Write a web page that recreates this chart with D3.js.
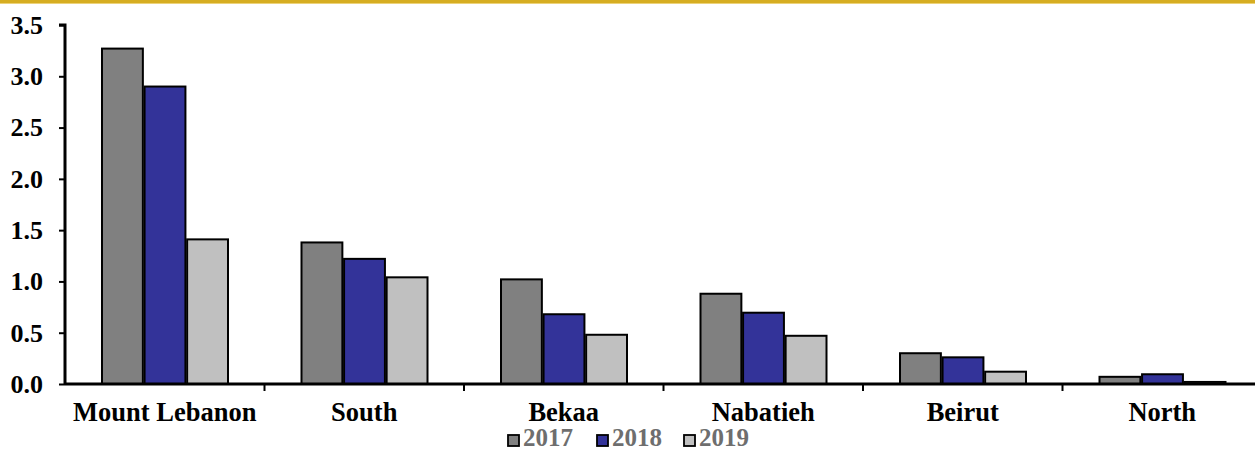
<!DOCTYPE html>
<html>
<head>
<meta charset="utf-8">
<script src="https://cdn.jsdelivr.net/npm/d3@7"></script>
<style>
  html, body { margin: 0; padding: 0; background: #fff; }
  svg { display: block; }
  text { font-family: "Liberation Serif", "Times New Roman", serif; font-weight: bold; }
</style>
</head>
<body>
<script>
// Regions and yearly values
const regions = ["Mount Lebanon", "South", "Bekaa", "Nabatieh", "Beirut", "North"];
const years = ["2017", "2018", "2019"];
const values2017 = [3.27, 1.38, 1.02, 0.88, 0.30, 0.07];
const values2018 = [2.90, 1.22, 0.68, 0.695, 0.26, 0.095];
const values2019 = [1.41, 1.04, 0.48, 0.47, 0.12, 0.02];
const yTicks = [0, 0.5, 1.0, 1.5, 2.0, 2.5, 3.0, 3.5];
const colors = ["#808080", "#333399", "#c0c0c0"];

const seriesByYear = [values2017, values2018, values2019];
const W = 1255, H = 451;
const plot = { left: 65, top: 25, bottom: 384, band: 199.5 };

const svg = d3.select("body").append("svg").attr("width", W).attr("height", H);

// gold rule along the top edge
svg.append("rect").attr("x", 0).attr("y", 0).attr("width", W).attr("height", 3).attr("fill", "#d6ad22");
svg.append("rect").attr("x", 0).attr("y", 3).attr("width", W).attr("height", 1).attr("fill", "#ecd27a");

const x = d3.scaleBand().domain(regions)
  .range([plot.left, plot.left + plot.band * regions.length]).padding(0);
const xInner = d3.scaleBand().domain(years).range([37, 163]).paddingInner(0.04);
const y = d3.scaleLinear().domain([0, 3.5]).range([plot.bottom, plot.top]);

// bars
const groups = svg.append("g").selectAll("g").data(regions).join("g")
  .attr("transform", d => `translate(${x(d)},0)`);
groups.selectAll("rect")
  .data((d, i) => years.map((yr, k) => ({ yr, k, v: seriesByYear[k][i] })))
  .join("rect")
  .attr("x", d => xInner(d.yr))
  .attr("width", xInner.bandwidth())
  .attr("y", d => y(d.v))
  .attr("height", d => y(0) - y(d.v))
  .attr("fill", d => colors[d.k])
  .attr("stroke", "#000")
  .attr("stroke-width", 2);

// y axis
const yAxis = d3.axisLeft(y).tickValues(yTicks).tickFormat(d3.format(".1f")).tickSize(6).tickPadding(16);
const gy = svg.append("g").attr("transform", `translate(${plot.left},0)`).call(yAxis);
gy.select(".domain").attr("stroke", "#000").attr("stroke-width", 3)
  .attr("d", `M-6,${plot.top}H0V${plot.bottom}`);
gy.selectAll(".tick line").attr("stroke", "#000").attr("stroke-width", 2);
gy.selectAll(".tick text").attr("font-size", 26).attr("fill", "#000")
  .attr("font-family", "Liberation Serif, Times New Roman, serif").attr("font-weight", "bold");

// x axis: baseline with separators between regions
const gx = svg.append("g").attr("transform", `translate(0,${plot.bottom})`);
gx.append("line").attr("x1", plot.left).attr("x2", plot.left + plot.band * regions.length)
  .attr("y1", 0).attr("y2", 0).attr("stroke", "#000").attr("stroke-width", 3);
gx.selectAll("line.sep").data(regions.slice(1)).join("line").attr("class", "sep")
  .attr("x1", d => x(d)).attr("x2", d => x(d)).attr("y1", 0).attr("y2", 7)
  .attr("stroke", "#000").attr("stroke-width", 2);
gx.selectAll("text").data(regions).join("text")
  .attr("x", d => x(d) + x.bandwidth() / 2)
  .attr("y", 37)
  .attr("text-anchor", "middle")
  .attr("font-size", 26.5)
  .attr("fill", "#000")
  .text(d => d);

// legend
const legend = svg.append("g");
const legendX = [508, 597, 684];
years.forEach((yr, k) => {
  legend.append("rect").attr("x", legendX[k]).attr("y", 435).attr("width", 11).attr("height", 11)
    .attr("fill", colors[k]).attr("stroke", "#000").attr("stroke-width", 1.8);
  legend.append("text").attr("x", legendX[k] + 15).attr("y", 446)
    .attr("font-size", 25).attr("fill", "#6e6e6e").text(yr);
});
</script>
</body>
</html>
